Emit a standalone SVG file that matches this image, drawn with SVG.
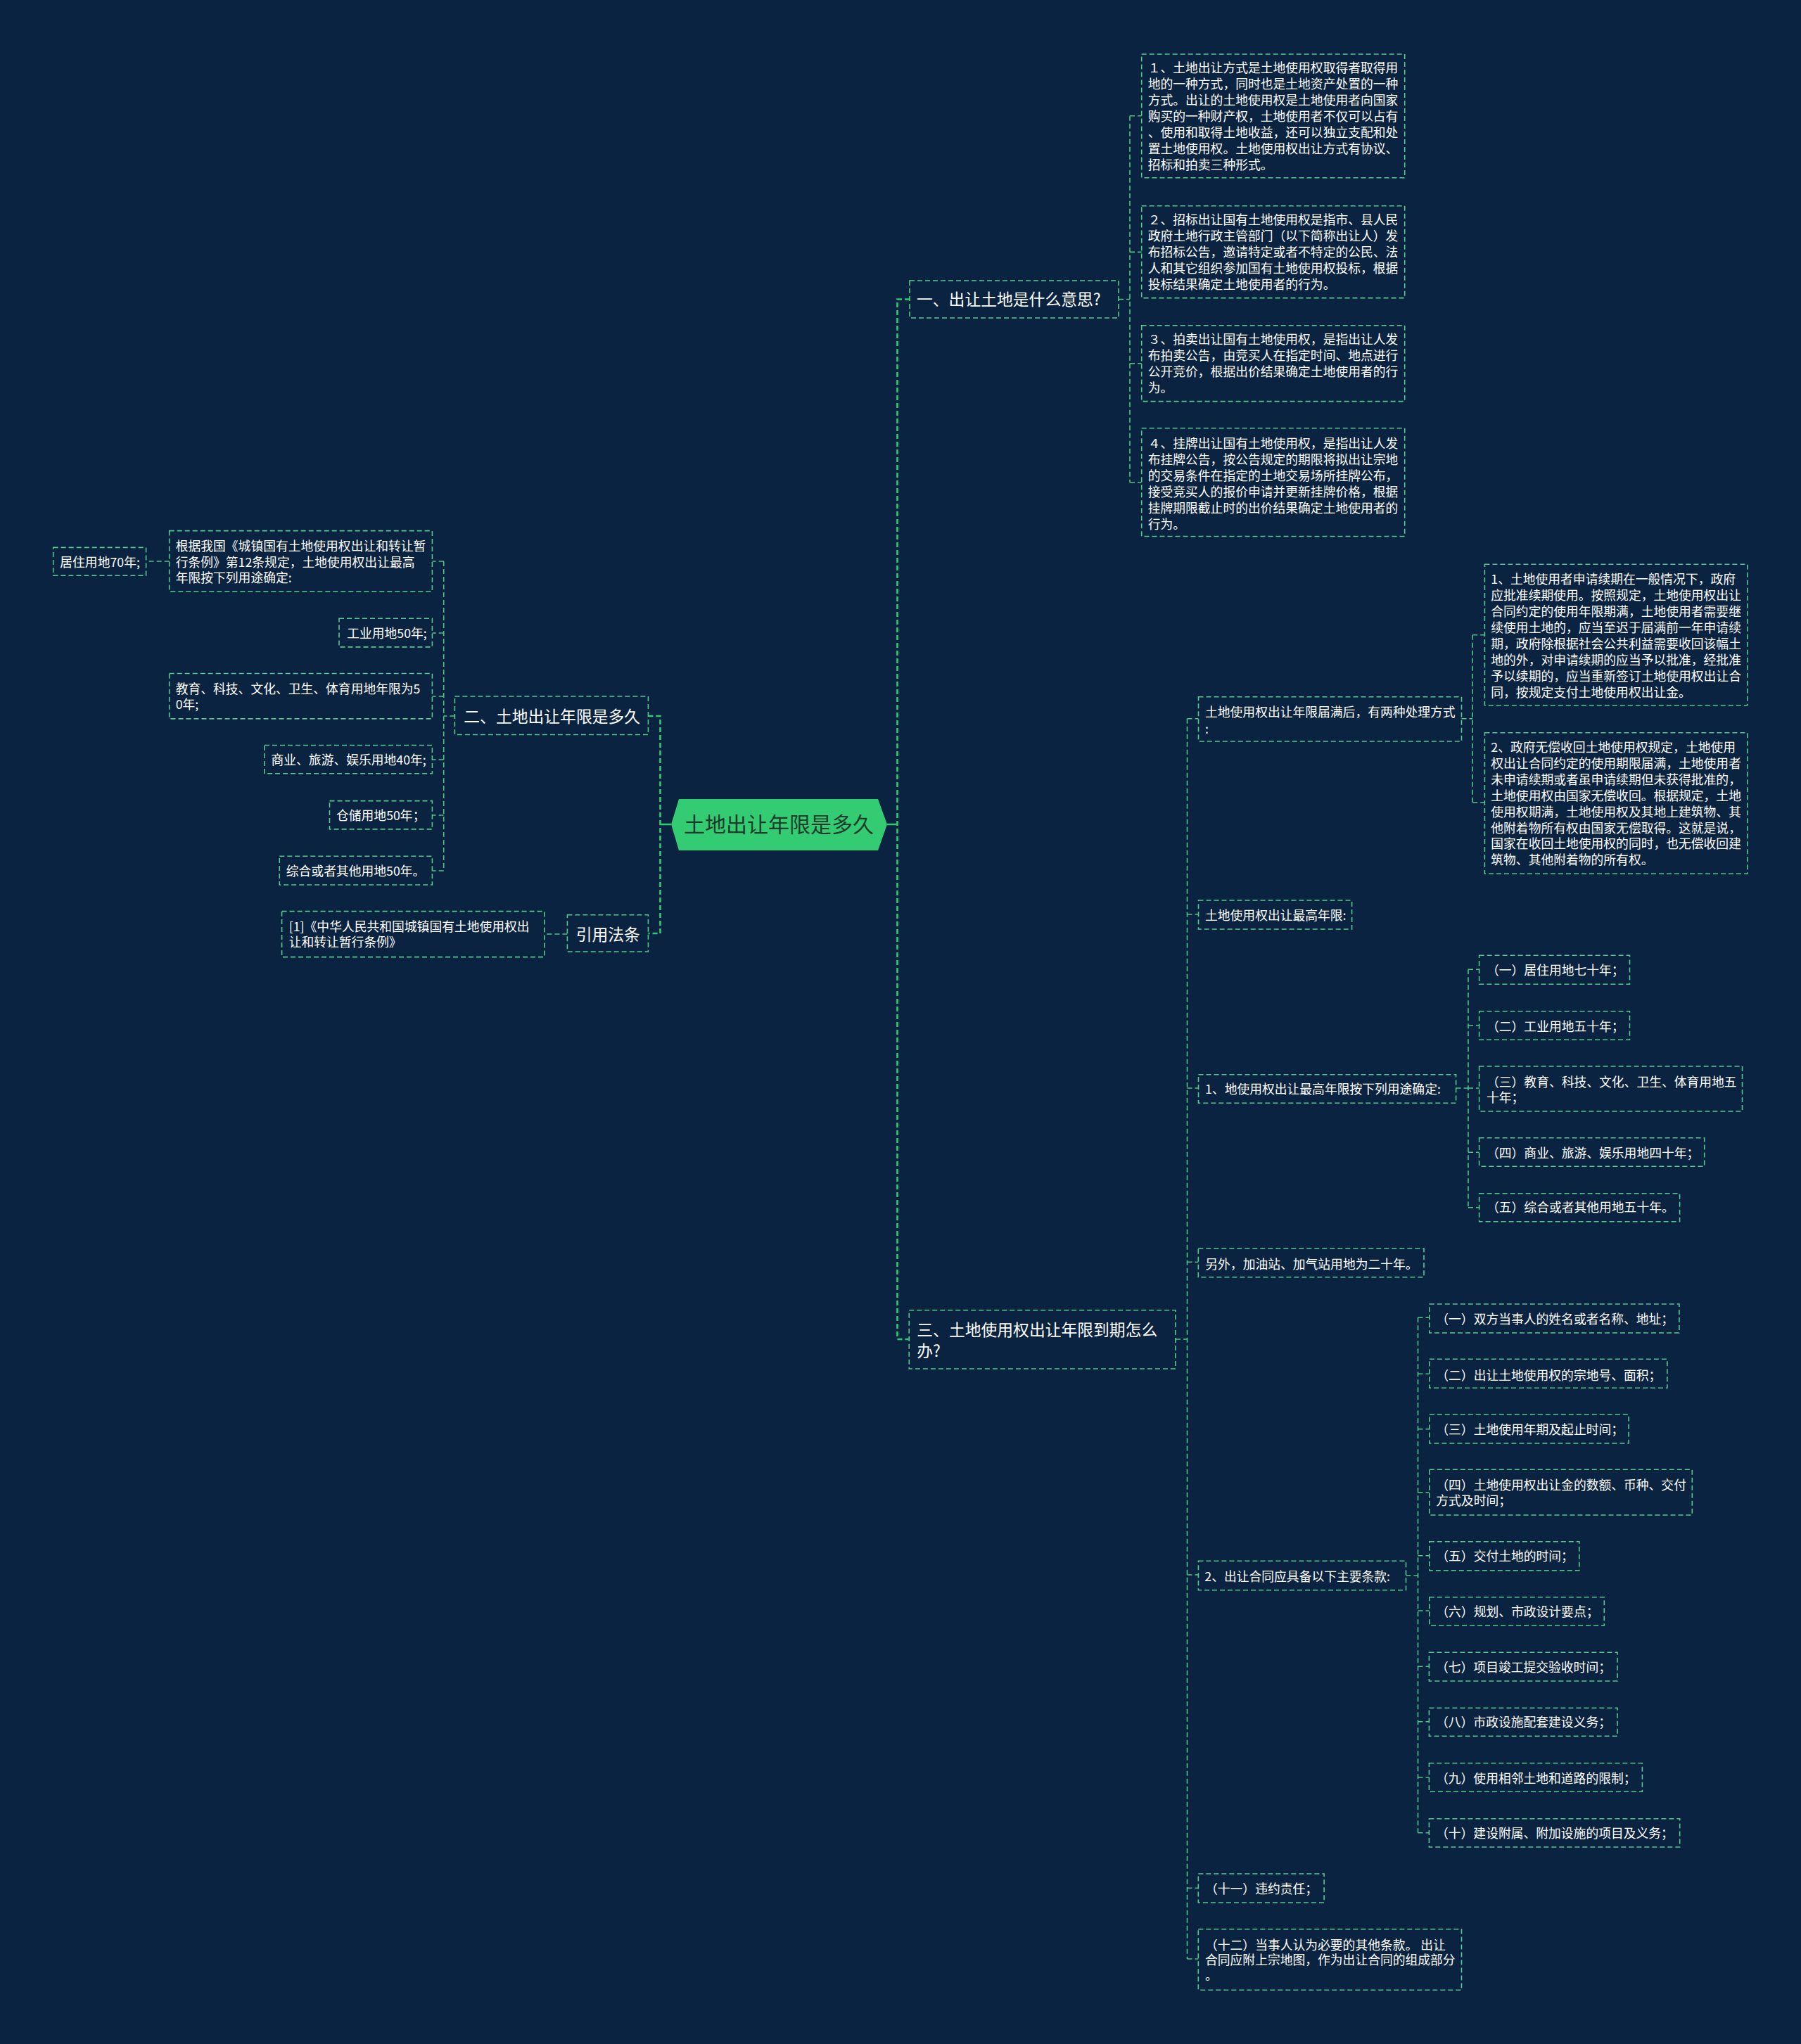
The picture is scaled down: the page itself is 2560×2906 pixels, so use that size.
<svg xmlns="http://www.w3.org/2000/svg" width="2560" height="2906" viewBox="0 0 2560 2906">
<style>
.box{fill:none;stroke:#55c98d;stroke-width:1.6;stroke-dasharray:7 4}
.c1{fill:none;stroke:#2ecc71;stroke-width:2.6;stroke-dasharray:7 4}
.c2{fill:none;stroke:#4cc584;stroke-width:1.6;stroke-dasharray:7 4}
.s1{fill:none;stroke:#2ecc71;stroke-width:2.6}
text{font-family:"Noto Sans CJK SC","Noto Sans",sans-serif;fill:#ffffff;font-size:17.8px}
.tl{font-size:22.8px}
.tc{font-size:30px;fill:#1c3b2a;text-anchor:middle}
</style>
<rect x="0" y="0" width="2560" height="2906" fill="#0a2340"/>
<g id="connectors">
<path class="s1" d="M954 1172H938.5M1261 1172H1275.5"/>
<path class="c1" d="M921.4 1018H938.5V1327H921.4"/>
<path class="c1" d="M1293 425.5H1275.5V1904H1292.2"/>
<path class="c2" d="M646.4 1018H630.7M630.7 798V1238M630.7 798H614.4M630.7 900H614.4M630.7 990H614.4M630.7 1080H614.4M630.7 1159H614.4M630.7 1238H614.4"/>
<path class="c2" d="M240.7 798H207.6"/>
<path class="c2" d="M806.4 1328H773.8"/>
<path class="c2" d="M1590 425.5H1606M1606 164.7V685.8M1606 164.7H1622.7M1606 358.4H1622.7M1606 516.8H1622.7M1606 685.8H1622.7"/>
<path class="c2" d="M1671 1904H1687.5M1687.5 1021.7V2785M1687.5 1021.7H1703.5M1687.5 1300H1703.5M1687.5 1547H1703.5M1687.5 1794.3H1703.3M1687.5 2239H1703.4M1687.5 2684.3H1703.3M1687.5 2785H1703.3"/>
<path class="c2" d="M2077.5 1021.7H2093.2M2093.2 902.7V1140.7M2093.2 902.7H2110.4M2093.2 1140.7H2110.4"/>
<path class="c2" d="M2069.6 1547H2087M2087 1378.3V1716.7M2087 1378.3H2102.6M2087 1457.7H2102.6M2087 1547H2102.6M2087 1638.3H2102.6M2087 1716.7H2102.6"/>
<path class="c2" d="M1998.5 2240H2015.5M2015.5 1873.3V2605.7M2015.5 1873.3H2031.6M2015.5 1953.3H2031.6M2015.5 2031.7H2031.6M2015.5 2121.7H2031.6M2015.5 2211.7H2031.6M2015.5 2290H2031.6M2015.5 2369.3H2031.4M2015.5 2447.7H2031.4M2015.5 2527H2031.4M2015.5 2605.7H2031.4"/>
</g>
<g id="root">
<polygon points="954,1172 965,1136 1248,1136 1261,1172 1248,1209 965,1209" fill="#33cc73"/>
<text class="tc" x="1107" y="1183">土地出让年限是多久</text>
</g>
<g id="n-two">
<rect class="box" x="646.4" y="990" width="275" height="54.5"/>
<text class="tl" x="659.3" y="1026.5">二、土地出让年限是多久</text>
</g>
<g id="n-law">
<rect class="box" x="806.4" y="1300.7" width="115" height="52.3"/>
<text class="tl" x="818.7" y="1336.5">引用法条</text>
</g>
<g id="n-law1">
<rect class="box" x="400.6" y="1295.6" width="373.2" height="65"/>
<text x="410.7" y="1323.8">[1]《中华人民共和国城镇国有土地使用权出</text>
<text x="410.7" y="1345.5">让和转让暂行条例》</text>
</g>
<g id="n-basis">
<rect class="box" x="240.7" y="754.6" width="373.7" height="86.2"/>
<text x="249.7" y="783.3">根据我国《城镇国有土地使用权出让和转让暂</text>
<text x="249.7" y="805.8">行条例》第12条规定，土地使用权出让最高</text>
<text x="249.7" y="828.4">年限按下列用途确定:</text>
</g>
<g id="n-res">
<rect class="box" x="75.7" y="778.4" width="131.9" height="39.9"/>
<text x="85.3" y="805.8">居住用地70年;</text>
</g>
<g id="n-ind">
<rect class="box" x="482" y="879.2" width="132.4" height="40.7"/>
<text x="493.2" y="906.5">工业用地50年;</text>
</g>
<g id="n-edu">
<rect class="box" x="240.7" y="957.5" width="373.7" height="64.4"/>
<text x="249.7" y="985.7">教育、科技、文化、卫生、体育用地年限为5</text>
<text x="249.7" y="1007.5">0年;</text>
</g>
<g id="n-com">
<rect class="box" x="376" y="1059.5" width="238.4" height="40.3"/>
<text x="385.5" y="1086.5">商业、旅游、娱乐用地40年;</text>
</g>
<g id="n-sto">
<rect class="box" x="468.5" y="1138.6" width="145.9" height="40.3"/>
<text x="478" y="1165.5">仓储用地50年；</text>
</g>
<g id="n-oth">
<rect class="box" x="397.3" y="1217.3" width="217.1" height="40.7"/>
<text x="406.8" y="1244.5">综合或者其他用地50年。</text>
</g>
<g id="n-one">
<rect class="box" x="1293" y="399" width="297" height="53"/>
<text class="tl" x="1303" y="434">一、出让土地是什么意思?</text>
</g>
<g id="n-one-a">
<rect class="box" x="1622.7" y="77" width="374" height="175.8"/>
<text x="1631.7" y="103.2">１、土地出让方式是土地使用权取得者取得用</text>
<text x="1631.7" y="126.2">地的一种方式，同时也是土地资产处置的一种</text>
<text x="1631.7" y="149.1">方式。出让的土地使用权是土地使用者向国家</text>
<text x="1631.7" y="172.1">购买的一种财产权，土地使用者不仅可以占有</text>
<text x="1631.7" y="195.1">、使用和取得土地收益，还可以独立支配和处</text>
<text x="1631.7" y="218">置土地使用权。土地使用权出让方式有协议、</text>
<text x="1631.7" y="241">招标和拍卖三种形式。</text>
</g>
<g id="n-one-b">
<rect class="box" x="1622.7" y="292.8" width="374" height="130.8"/>
<text x="1631.7" y="319">２、招标出让国有土地使用权是指市、县人民</text>
<text x="1631.7" y="342">政府土地行政主管部门（以下简称出让人）发</text>
<text x="1631.7" y="364.9">布招标公告，邀请特定或者不特定的公民、法</text>
<text x="1631.7" y="387.9">人和其它组织参加国有土地使用权投标，根据</text>
<text x="1631.7" y="410.9">投标结果确定土地使用者的行为。</text>
</g>
<g id="n-one-c">
<rect class="box" x="1622.7" y="462.7" width="374" height="107.9"/>
<text x="1631.7" y="488.9">３、拍卖出让国有土地使用权，是指出让人发</text>
<text x="1631.7" y="511.9">布拍卖公告，由竞买人在指定时间、地点进行</text>
<text x="1631.7" y="534.8">公开竞价，根据出价结果确定土地使用者的行</text>
<text x="1631.7" y="557.8">为。</text>
</g>
<g id="n-one-d">
<rect class="box" x="1622.7" y="608.7" width="374" height="153.8"/>
<text x="1631.7" y="637.2">４、挂牌出让国有土地使用权，是指出让人发</text>
<text x="1631.7" y="660.1">布挂牌公告，按公告规定的期限将拟出让宗地</text>
<text x="1631.7" y="683.1">的交易条件在指定的土地交易场所挂牌公布，</text>
<text x="1631.7" y="706.1">接受竞买人的报价申请并更新挂牌价格，根据</text>
<text x="1631.7" y="729">挂牌期限截止时的出价结果确定土地使用者的</text>
<text x="1631.7" y="752">行为。</text>
</g>
<g id="n-three">
<rect class="box" x="1292.2" y="1862.7" width="378.7" height="83.3"/>
<text class="tl" x="1303.3" y="1898.5">三、土地使用权出让年限到期怎么</text>
<text class="tl" x="1303.3" y="1928.5">办?</text>
</g>
<g id="n-exp">
<rect class="box" x="1703.5" y="990.7" width="374" height="63.3"/>
<text x="1713" y="1019.2">土地使用权出让年限届满后，有两种处理方式</text>
<text x="1713" y="1043.2">:</text>
</g>
<g id="n-exp1">
<rect class="box" x="2110.4" y="802.3" width="373.5" height="200.4"/>
<text x="2119.3" y="829.8">1、土地使用者申请续期在一般情况下，政府</text>
<text x="2119.3" y="852.8">应批准续期使用。按照规定，土地使用权出让</text>
<text x="2119.3" y="875.8">合同约定的使用年限期满，土地使用者需要继</text>
<text x="2119.3" y="898.8">续使用土地的，应当至迟于届满前一年申请续</text>
<text x="2119.3" y="921.8">期，政府除根据社会公共利益需要收回该幅土</text>
<text x="2119.3" y="944.8">地的外，对申请续期的应当予以批准，经批准</text>
<text x="2119.3" y="967.8">予以续期的，应当重新签订土地使用权出让合</text>
<text x="2119.3" y="990.8">同，按规定支付土地使用权出让金。</text>
</g>
<g id="n-exp2">
<rect class="box" x="2110.4" y="1041.7" width="373.5" height="200.6"/>
<text x="2119.3" y="1069.2">2、政府无偿收回土地使用权规定，土地使用</text>
<text x="2119.3" y="1092.1">权出让合同约定的使用期限届满，土地使用者</text>
<text x="2119.3" y="1114.9">未申请续期或者虽申请续期但未获得批准的，</text>
<text x="2119.3" y="1137.8">土地使用权由国家无偿收回。根据规定，土地</text>
<text x="2119.3" y="1160.6">使用权期满，土地使用权及其地上建筑物、其</text>
<text x="2119.3" y="1183.5">他附着物所有权由国家无偿取得。这就是说，</text>
<text x="2119.3" y="1206.4">国家在收回土地使用权的同时，也无偿收回建</text>
<text x="2119.3" y="1229.2">筑物、其他附着物的所有权。</text>
</g>
<g id="n-max">
<rect class="box" x="1703.5" y="1280" width="218.1" height="41"/>
<text x="1713" y="1307.5">土地使用权出让最高年限:</text>
</g>
<g id="n-use">
<rect class="box" x="1703.5" y="1527.7" width="366.1" height="40.6"/>
<text x="1713" y="1554.5">1、地使用权出让最高年限按下列用途确定:</text>
</g>
<g id="n-use1">
<rect class="box" x="2102.6" y="1358.3" width="213.9" height="41"/>
<text x="2113" y="1385.5">（一）居住用地七十年；</text>
</g>
<g id="n-use2">
<rect class="box" x="2102.6" y="1437.7" width="213.9" height="40.6"/>
<text x="2113" y="1465.8">（二）工业用地五十年；</text>
</g>
<g id="n-use3">
<rect class="box" x="2102.6" y="1516" width="373.9" height="64"/>
<text x="2113" y="1544.8">（三）教育、科技、文化、卫生、体育用地五</text>
<text x="2113" y="1566.5">十年；</text>
</g>
<g id="n-use4">
<rect class="box" x="2102.6" y="1617.7" width="320.1" height="40.6"/>
<text x="2113" y="1645.8">（四）商业、旅游、娱乐用地四十年；</text>
</g>
<g id="n-use5">
<rect class="box" x="2102.6" y="1696.7" width="285" height="40"/>
<text x="2113" y="1723.2">（五）综合或者其他用地五十年。</text>
</g>
<g id="n-gas">
<rect class="box" x="1703.3" y="1775" width="320.7" height="40.7"/>
<text x="1713.3" y="1803.8">另外，加油站、加气站用地为二十年。</text>
</g>
<g id="n-contract">
<rect class="box" x="1703.4" y="2219.3" width="295.1" height="41.4"/>
<text x="1712.3" y="2248.2">2、出让合同应具备以下主要条款:</text>
</g>
<g id="n-c1">
<rect class="box" x="2031.8" y="1854" width="355.1" height="41"/>
<text x="2041.3" y="1881.5">（一）双方当事人的姓名或者名称、地址；</text>
</g>
<g id="n-c2">
<rect class="box" x="2031.8" y="1932.3" width="338.1" height="41"/>
<text x="2041.3" y="1961.5">（二）出让土地使用权的宗地号、面积；</text>
</g>
<g id="n-c3">
<rect class="box" x="2031.8" y="2011" width="283.3" height="41"/>
<text x="2041.3" y="2039.2">（三）土地使用年期及起止时间；</text>
</g>
<g id="n-c4">
<rect class="box" x="2031.8" y="2089.3" width="373.5" height="64.7"/>
<text x="2041.3" y="2118.2">（四）土地使用权出让金的数额、币种、交付</text>
<text x="2041.3" y="2139.8">方式及时间；</text>
</g>
<g id="n-c5">
<rect class="box" x="2031.8" y="2191.7" width="213" height="41"/>
<text x="2041.3" y="2219.2">（五）交付土地的时间；</text>
</g>
<g id="n-c6">
<rect class="box" x="2031.8" y="2270.7" width="248.5" height="40.3"/>
<text x="2041.3" y="2298.2">（六）规划、市政设计要点；</text>
</g>
<g id="n-c7">
<rect class="box" x="2031.4" y="2349.3" width="267.6" height="40.7"/>
<text x="2041" y="2376.5">（七）项目竣工提交验收时间；</text>
</g>
<g id="n-c8">
<rect class="box" x="2031.4" y="2428.3" width="267.6" height="40"/>
<text x="2041" y="2454.8">（八）市政设施配套建设义务；</text>
</g>
<g id="n-c9">
<rect class="box" x="2031.4" y="2506.7" width="303" height="40.6"/>
<text x="2041" y="2534.8">（九）使用相邻土地和道路的限制；</text>
</g>
<g id="n-c10">
<rect class="box" x="2031.4" y="2585.7" width="356.3" height="40.3"/>
<text x="2041" y="2613.2">（十）建设附属、附加设施的项目及义务；</text>
</g>
<g id="n-c11">
<rect class="box" x="1703.3" y="2664" width="178.8" height="41"/>
<text x="1713" y="2691.5">（十一）违约责任；</text>
</g>
<g id="n-c12">
<rect class="box" x="1703.3" y="2742.7" width="374.2" height="86.6"/>
<text x="1713" y="2771.5">（十二）当事人认为必要的其他条款。 出让</text>
<text x="1713" y="2793.2">合同应附上宗地图，作为出让合同的组成部分</text>
<text x="1713" y="2814.9">。</text>
</g>
</svg>
